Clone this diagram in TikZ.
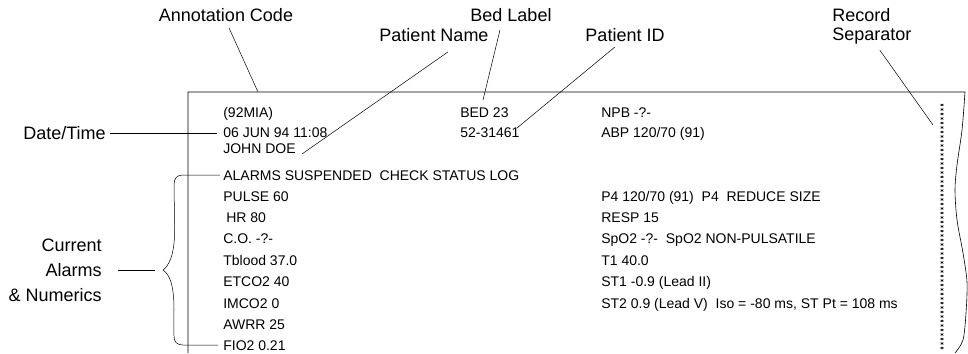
\documentclass[tikz,border=0pt]{standalone}
\usepackage{fontspec}
\setmainfont{Liberation Sans}
\begin{document}
\begin{tikzpicture}[x=1pt, y=-1pt, line width=0.6pt,
        every node/.style={inner sep=0pt},
        callout/.style={font=\fontsize{18}{19}\selectfont},
        rec/.style={anchor=base west, font=\fontsize{14}{14}\selectfont},
        sepmark/.style={line width=0.45pt},
        leader/.style={line width=0.5pt}]
    \useasboundingbox (0,0) rectangle (968,353);
    % paper strip, torn on the right
    \draw (188,353) -- (188,92) -- plot[smooth] coordinates {(965,92) (962,130) (957,165) (955,190)
        (957,220) (963,253) (967,282) (966,313) (963,340) (955,353)};
    % record separator: a column of little asterisks
    \foreach \k in {0,...,54}
        \draw[sepmark] (942,105+4.5*\k) +(0,-1.7) -- +(0,1.7) +(-1.5,-0.85) -- +(1.5,0.85)
            +(-1.5,0.85) -- +(1.5,-0.85);
    % printed record
    \foreach \y/\entry [count=\i] in {117/{(92MIA)}, 137/{06 JUN 94 11:08}, 153/{JOHN DOE},
            180/{ALARMS SUSPENDED\ \ CHECK STATUS LOG}, 201/{PULSE 60}, 222/{\hspace{3pt}HR 80},
            243/{C.O. -?-}, 265/{Tblood 37.0}, 286/{ETCO2 40}, 308/{IMCO2 0}, 329/{AWRR 25},
            350/{FIO2 0.21}}
        \node[rec] (left-\i) at (223,\y) {\entry};
    \node[rec] (mid-1) at (460,117) {BED 23};
    \node[rec] (mid-2) at (460,137) {52-31461};
    \foreach \y/\entry [count=\i] in {117/{NPB -?-}, 137/{ABP 120/70 (91)},
            201/{P4 120/70 (91)\ \ P4\ \ REDUCE SIZE}, 222/{RESP 15},
            243/{SpO2 -?-\ \ SpO2 NON-PULSATILE}, 265/{T1 40.0}, 286/{ST1 -0.9 (Lead II)},
            308/{ST2 0.9 (Lead V)\ \ Iso = -80 ms, ST Pt = 108 ms}}
        \node[rec] (right-\i) at (601,\y) {\entry};
    % callouts
    \node[callout] (annot) at (226,15) {Annotation Code};
    \node[callout] (bedlbl) at (511,15) {Bed Label};
    \node[callout] (pname) at (434,35) {Patient Name};
    \node[callout] (pid) at (625,35) {Patient ID};
    \node[callout, align=left, anchor=west] (recsep) at (832,26) {Record\\Separator};
    \node[callout, anchor=east] (datetime) at (106,133) {Date/Time};
    \node[callout, align=right, anchor=east, font=\fontsize{18}{25}\selectfont] (alarms)
        at (102,270) {Current\\Alarms\\\& Numerics};
    \coordinate (annot-tip) at (258,92);
    \coordinate (bedlbl-tip) at (483,100);
    \coordinate (pname-tip) at (302,154);
    \coordinate (pid-tip) at (517,128);
    \coordinate (recsep-tip) at (933,125);
    \coordinate (datetime-tip) at (217,133);
    \coordinate (alarms-tip) at (155,270);
    \draw[leader] ([shift={(3,6)}]annot.south) -- (annot-tip);
    \draw[leader] ([shift={(-11,8)}]bedlbl.south) -- (bedlbl-tip);
    \draw[leader] ([shift={(14,10)}]pname.south) -- (pname-tip);
    \draw[leader] ([shift={(-10,5)}]pid.south) -- (pid-tip);
    \draw[leader] ([shift={(8,6)}]recsep.south) -- (recsep-tip);
    \draw[leader] ([xshift=4pt]datetime.east) -- (datetime-tip);
    \draw[leader] ([xshift=16pt]alarms.east) -- (alarms-tip);
    % brace over the alarm lines
    \draw[leader] ([xshift=-3pt]left-4.west) -- (183,175) .. controls (177,175) and (174,178) .. (174,185)
        .. controls (174,215) and (177,240) .. (171,258) .. controls (168,265) and (166,268) .. (163,270)
        .. controls (166,272) and (169,276) .. (171,282) .. controls (176,300) and (173,320) .. (174,336)
        .. controls (174,342) and (177,345) .. (183,345) -- ([xshift=-5pt]left-12.west);
\end{tikzpicture}
\end{document}
